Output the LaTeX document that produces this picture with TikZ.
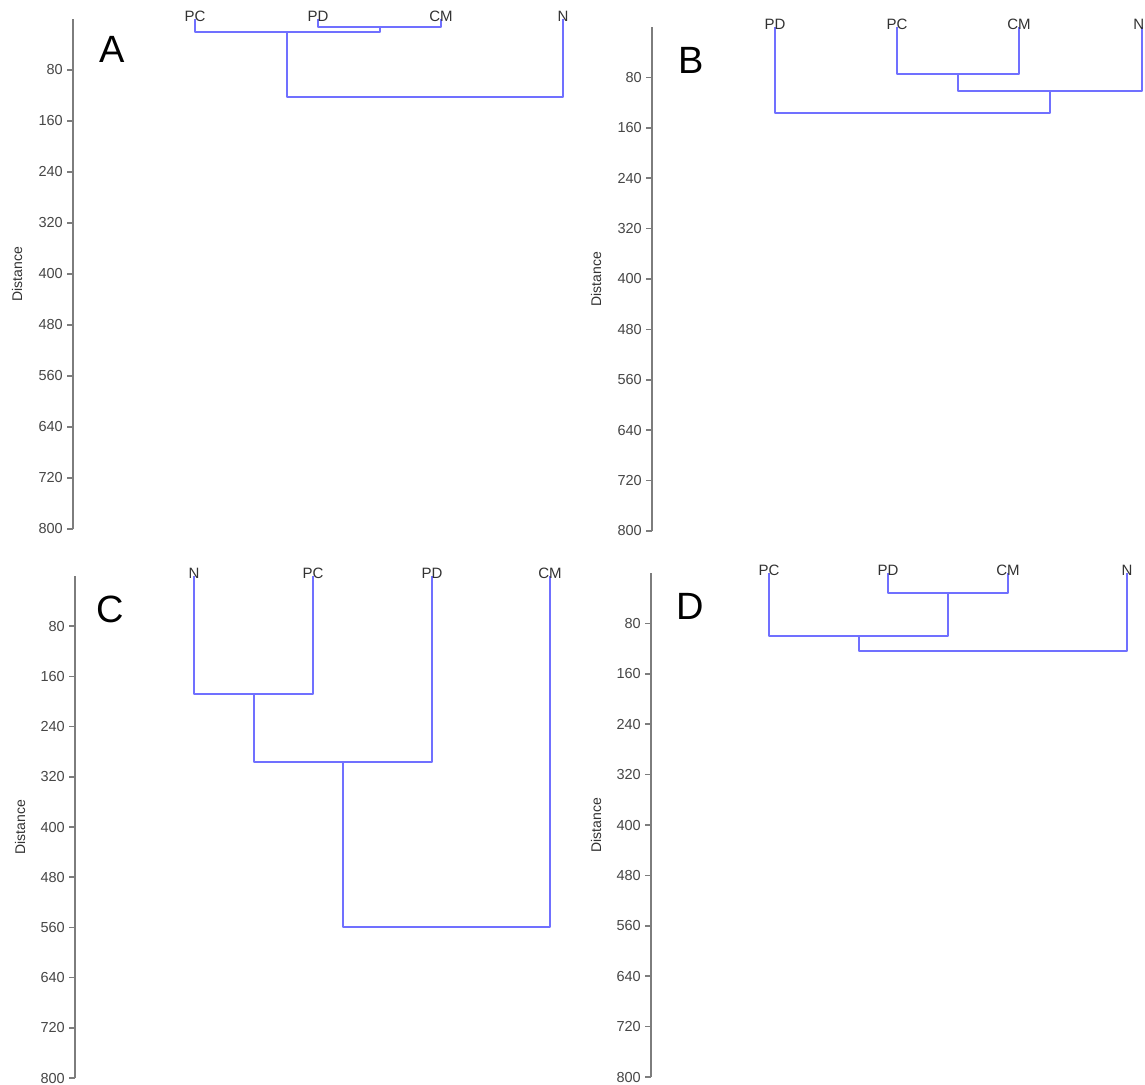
\documentclass[tikz,border=0pt]{standalone}
\usepackage{fontspec}
\setmainfont{Liberation Sans}
\definecolor{linkblue}{RGB}{112,112,255}
\definecolor{axisgray}{RGB}{125,125,125}
\definecolor{ticktext}{RGB}{70,70,70}
\definecolor{leaftext}{RGB}{50,50,50}
\newcommand{\distaxis}[5]{% #1 name, #2 x, #3 y0, #4 step, #5 label x
  \draw[axisline] (#2,#3) coordinate (#1-top) -- (#2,#3+10*#4) coordinate (#1-bot);
  \foreach \i in {1,...,10}{
    \pgfmathtruncatemacro\tickval{80*\i}
    \draw[tickmark] (#2,#3+\i*#4) -- ++(-6,0) node[ticklabel] (#1-t\i) {\tickval};
  }
  \node[ylab] (#1-ylab) at (#5,#3+5*#4) {Distance};
}
\begin{document}
\begin{tikzpicture}[x=1pt,y=-1pt,
  axisline/.style={draw=axisgray, line width=1.9pt},
  tickmark/.style={draw=axisgray, line width=1.5pt},
  ticklabel/.style={anchor=east, xshift=-3.5pt, text=ticktext, font=\fontsize{14.5}{15}\selectfont, inner sep=0pt},
  link/.style={draw=linkblue, line width=2pt, line join=round},
  leaf/.style={text=leaftext, font=\fontsize{15}{15}\selectfont, inner sep=0pt},
  panel/.style={font=\fontsize{38}{38}\selectfont, inner sep=0pt},
  ylab/.style={rotate=90, text=leaftext, font=\fontsize{14}{14}\selectfont, inner sep=0pt}]
\useasboundingbox (0,0) rectangle (1145,1084);
\fill[white] (0,0) rectangle (1145,1084);

% ---------- Panel A ----------
\distaxis{Aax}{73}{19}{51.0}{17}
\node[panel] (A-label) at (112,49) {A};
\coordinate (A-PC) at (195,19);
\coordinate (A-PD) at (318,19);
\coordinate (A-CM) at (441,19);
\coordinate (A-N)  at (563,19);
\coordinate (A-j1) at (379.5,27);
\coordinate (A-j2) at (287,32);
\coordinate (A-j3) at (425,97);
\draw[link] (A-PD) |- (A-j1) -| (A-CM);
\draw[link] (A-PC) |- (A-j2) -| (A-j1);
\draw[link] (A-j2) |- (A-j3) -| (A-N);
\node[leaf] (A-PCl) at (195,16.5) {PC};
\node[leaf] (A-PDl) at (318,16.5) {PD};
\node[leaf] (A-CMl) at (441,16.5) {CM};
\node[leaf] (A-Nl)  at (563,16.5) {N};

% ---------- Panel B ----------
\distaxis{Bax}{652}{27}{50.4}{596}
\node[panel] (B-label) at (691,60) {B};
\coordinate (B-PD) at (775,27);
\coordinate (B-PC) at (897,27);
\coordinate (B-CM) at (1019,27);
\coordinate (B-N)  at (1142,27);
\coordinate (B-j1) at (958,74);
\coordinate (B-j2) at (1050,91);
\coordinate (B-j3) at (912.5,113);
\draw[link] (B-PC) |- (B-j1) -| (B-CM);
\draw[link] (B-j1) |- (B-j2) -| (B-N);
\draw[link] (B-PD) |- (B-j3) -| (B-j2);
\node[leaf] (B-PDl) at (775,24.5) {PD};
\node[leaf] (B-PCl) at (897,24.5) {PC};
\node[leaf] (B-CMl) at (1019,24.5) {CM};
\node[leaf, anchor=east] (B-Nl) at (1144.5,24.5) {N};

% ---------- Panel C ----------
\distaxis{Cax}{75}{576}{50.2}{20}
\node[panel] (C-label) at (110,609) {C};
\coordinate (C-N)  at (194,576);
\coordinate (C-PC) at (313,576);
\coordinate (C-PD) at (432,576);
\coordinate (C-CM) at (550,576);
\coordinate (C-j1) at (253.5,694);
\coordinate (C-j2) at (342.75,762);
\coordinate (C-j3) at (446.4,927);
\draw[link] (C-N) |- (C-j1) -| (C-PC);
\draw[link] (C-j1) |- (C-j2) -| (C-PD);
\draw[link] (C-j2) |- (C-j3) -| (C-CM);
\node[leaf] (C-Nl)  at (194,573.5) {N};
\node[leaf] (C-PCl) at (313,573.5) {PC};
\node[leaf] (C-PDl) at (432,573.5) {PD};
\node[leaf] (C-CMl) at (550,573.5) {CM};

% ---------- Panel D ----------
\distaxis{Dax}{651}{573}{50.4}{596}
\node[panel] (D-label) at (690,606) {D};
\coordinate (D-PC) at (769,573);
\coordinate (D-PD) at (888,573);
\coordinate (D-CM) at (1008,573);
\coordinate (D-N)  at (1127,573);
\coordinate (D-j1) at (948,593);
\coordinate (D-j2) at (858.5,636);
\coordinate (D-j3) at (992.75,651);
\draw[link] (D-PD) |- (D-j1) -| (D-CM);
\draw[link] (D-PC) |- (D-j2) -| (D-j1);
\draw[link] (D-j2) |- (D-j3) -| (D-N);
\node[leaf] (D-PCl) at (769,570.5) {PC};
\node[leaf] (D-PDl) at (888,570.5) {PD};
\node[leaf] (D-CMl) at (1008,570.5) {CM};
\node[leaf] (D-Nl)  at (1127,570.5) {N};
\end{tikzpicture}
\end{document}
